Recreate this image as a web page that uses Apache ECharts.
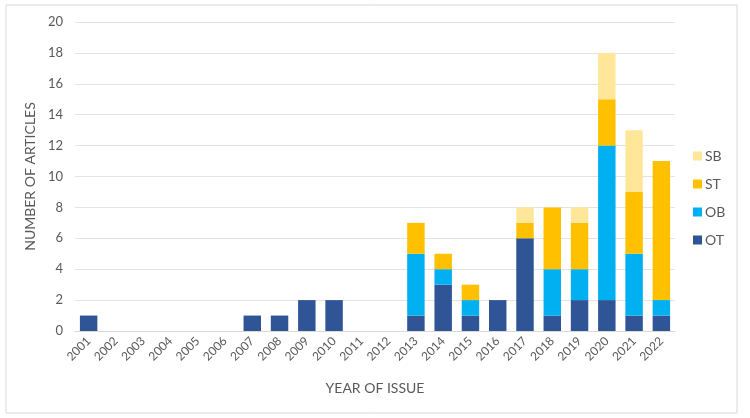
<!DOCTYPE html>
<html><head><meta charset="utf-8">
<script src="https://cdn.jsdelivr.net/npm/echarts@6/dist/echarts.min.js"></script>
<style>html,body{margin:0;padding:0;background:#fff}#c{width:750px;height:418px}</style>
</head><body><div id="c"></div>
<script>
const years = ['2001','2002','2003','2004','2005','2006','2007','2008','2009','2010','2011','2012','2013','2014','2015','2016','2017','2018','2019','2020','2021','2022'];
const OT = [1,0,0,0,0,0,1,1,2,2,0,0,1,3,1,2,6,1,2,2,1,1];
const OB = [0,0,0,0,0,0,0,0,0,0,0,0,4,1,1,0,0,3,2,10,4,1];
const ST = [0,0,0,0,0,0,0,0,0,0,0,0,2,1,1,0,1,4,3,3,4,9];
const SB = [0,0,0,0,0,0,0,0,0,0,0,0,0,0,0,0,1,0,1,3,4,0];
const yTicks = {min:0, max:20, interval:2};
const FONT = 'Lato';
const chart = echarts.init(document.getElementById('c'));
function s(name, data, color){
  return {name, type:'bar', stack:'a', data, barWidth:'64%', itemStyle:{color}};
}
chart.setOption({
  animation:false,
  textStyle:{fontFamily:FONT},
  graphic:[{type:'rect', shape:{x:6,y:5,width:731,height:408}, style:{fill:'none', stroke:'#d9d9d9', lineWidth:1}, silent:true}],
  grid:{left:75, right:75, top:22, bottom:87},
  legend:{
    orient:'vertical', left:688, top:144, itemGap:14, itemWidth:9, itemHeight:9,
    data:['SB','ST','OB','OT'], icon:'rect',
    textStyle:{fontFamily:FONT, fontSize:14, color:'#595959', padding:[0,0,0,-2]}
  },
  xAxis:{
    type:'category', data:years,
    name:'YEAR OF ISSUE', nameLocation:'middle', nameGap:50,
    nameTextStyle:{fontFamily:FONT, fontSize:14, color:'#595959'},
    axisLine:{lineStyle:{color:'#d9d9d9'}}, axisTick:{show:false},
    axisLabel:{rotate:45, interval:0, fontSize:12, color:'#595959', fontFamily:FONT, margin:8}
  },
  yAxis:{
    type:'value', min:yTicks.min, max:yTicks.max, interval:yTicks.interval,
    name:'NUMBER OF ARTICLES', nameLocation:'middle', nameGap:34,
    nameTextStyle:{fontFamily:FONT, fontSize:14, color:'#595959'},
    axisLine:{show:false}, axisTick:{show:false},
    axisLabel:{fontSize:13, color:'#595959', fontFamily:FONT, margin:12},
    splitLine:{lineStyle:{color:'#e3e3e3'}}
  },
  series:[
    s('OT', OT, '#2F5597'),
    s('OB', OB, '#00B0F0'),
    s('ST', ST, '#FFC000'),
    s('SB', SB, '#FFE699')
  ]
});
</script></body></html>
